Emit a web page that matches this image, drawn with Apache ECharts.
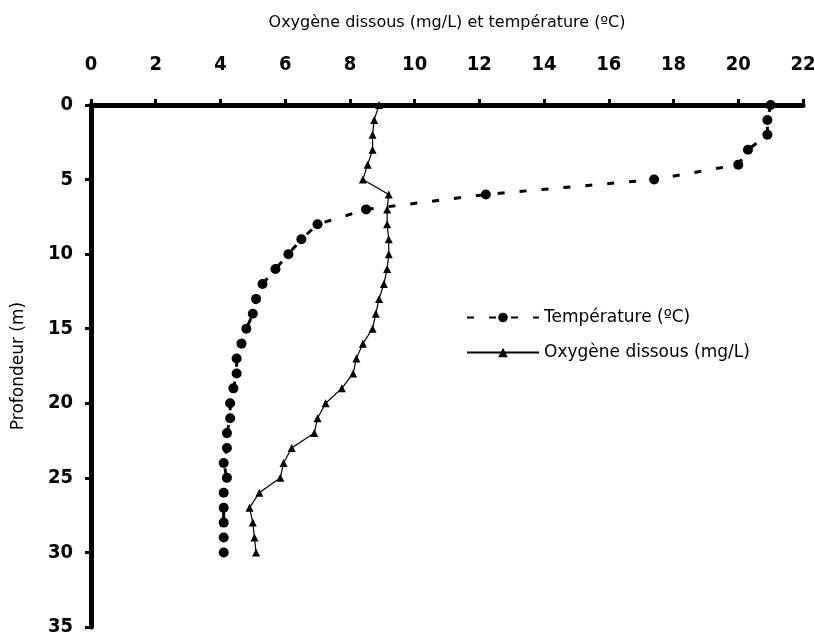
<!DOCTYPE html>
<html>
<head>
<meta charset="utf-8">
<script src="https://cdn.jsdelivr.net/npm/echarts@6/dist/echarts.min.js"></script>
<style>
  html, body { margin: 0; padding: 0; background: #fff; }
  #chart { width: 814px; height: 637px; }
</style>
</head>
<body>
<div id="chart"></div>
<script>
// Depth (m)
const depths = [0,1,2,3,4,5,6,7,8,9,10,11,12,13,14,15,16,17,18,19,20,21,22,23,24,25,26,27,28,29,30];
// Temperature (°C)
const temperature = [21.0,20.9,20.9,20.3,20.0,17.4,12.2,8.5,7.0,6.5,6.1,5.7,5.3,5.1,5.0,4.8,4.65,4.5,4.5,4.4,4.3,4.3,4.2,4.2,4.1,4.2,4.1,4.1,4.1,4.1,4.1];
// Dissolved oxygen (mg/L)
const oxygen = [8.9,8.75,8.7,8.7,8.55,8.4,9.2,9.15,9.15,9.2,9.2,9.15,9.05,8.9,8.8,8.7,8.4,8.2,8.1,7.75,7.25,7.0,6.9,6.2,5.95,5.85,5.2,4.9,5.0,5.05,5.1];
const xTicks = [0,2,4,6,8,10,12,14,16,18,20,22];
const yTicks = [0,5,10,15,20,25,30,35];
const seriesNames = ['Température (ºC)', 'Oxygène dissous (mg/L)'];
const xTitle = 'Oxygène dissous (mg/L) et température (ºC)';
const yTitle = 'Profondeur (m)';

const chart = echarts.init(document.getElementById('chart'), null, { renderer: 'canvas' });
const labelFont = "'DejaVu Sans Condensed', 'Liberation Sans Narrow', 'Liberation Sans', sans-serif";
const textFont = "'DejaVu Sans', 'Liberation Sans', sans-serif";

chart.setOption({
  backgroundColor: '#ffffff',
  animation: false,
  grid: { left: 91, right: 11, top: 105, bottom: 10, containLabel: false, outerBoundsMode: 'none' },
  legend: {
    orient: 'vertical',
    left: 461,
    top: 304,
    itemWidth: 72,
    itemHeight: 12,
    itemGap: 18,
    textStyle: { color: '#000', fontSize: 17, fontFamily: textFont },
    data: seriesNames
  },
  xAxis: {
    type: 'value',
    position: 'top',
    min: xTicks[0],
    max: xTicks[xTicks.length - 1],
    interval: 2,
    name: xTitle,
    nameLocation: 'middle',
    nameGap: 74,
    nameTextStyle: { color: '#000', fontSize: 16, fontFamily: textFont },
    axisLine: { show: true, onZero: false, lineStyle: { color: '#000', width: 5 } },
    axisTick: { show: true, inside: false, length: 6, lineStyle: { color: '#000', width: 3 } },
    axisLabel: { color: '#000', fontSize: 20, fontWeight: 'bold', fontFamily: labelFont, margin: 30 },
    splitLine: { show: false }
  },
  yAxis: {
    type: 'value',
    inverse: true,
    min: yTicks[0],
    max: yTicks[yTicks.length - 1],
    interval: 5,
    name: yTitle,
    nameLocation: 'middle',
    nameGap: 64,
    nameRotate: 90,
    nameTextStyle: { color: '#000', fontSize: 17, fontFamily: textFont },
    axisLine: { show: true, onZero: false, lineStyle: { color: '#000', width: 5 } },
    axisTick: { show: true, inside: false, length: 6, lineStyle: { color: '#000', width: 3 } },
    axisLabel: { color: '#000', fontSize: 20, fontWeight: 'bold', fontFamily: labelFont, margin: 18 },
    splitLine: { show: false }
  },
  series: [
    {
      name: seriesNames[0],
      type: 'line',
      data: depths.map((d, i) => [temperature[i], d]),
      symbol: 'circle',
      symbolSize: 10,
      itemStyle: { color: '#000' },
      lineStyle: { color: '#000', width: 3, type: [7, 15] },
      z: 3
    },
    {
      name: seriesNames[1],
      type: 'line',
      data: depths.map((d, i) => [oxygen[i], d]),
      symbol: 'triangle',
      symbolSize: 8,
      itemStyle: { color: '#000' },
      lineStyle: { color: '#000', width: 1.2, type: 'solid' },
      z: 4
    }
  ]
});
</script>
</body>
</html>
